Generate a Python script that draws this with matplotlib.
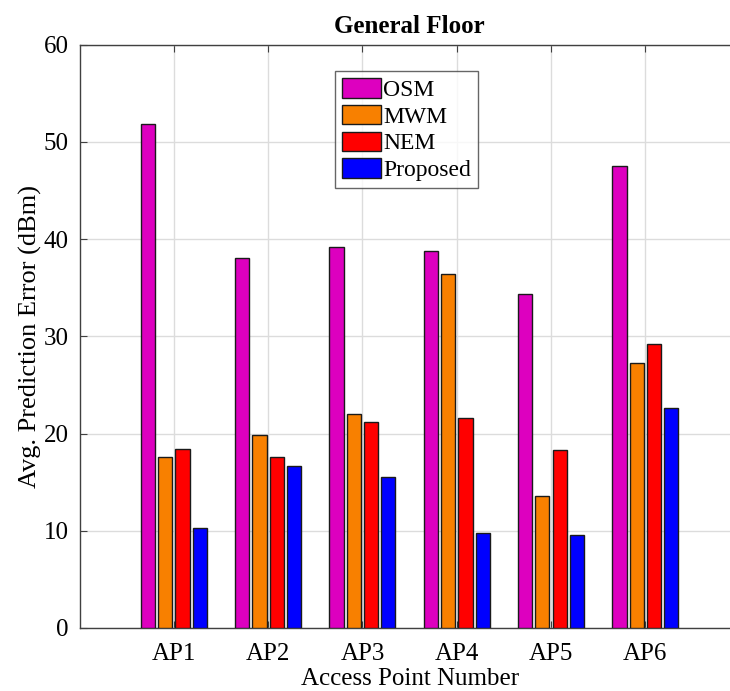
import matplotlib
matplotlib.use("Agg")
import matplotlib.pyplot as plt
import numpy as np

categories = ["AP1", "AP2", "AP3", "AP4", "AP5", "AP6"]
series_names = ["OSM", "MWM", "NEM", "Proposed"]
osm = [51.8, 38.0, 39.2, 38.8, 34.3, 47.5]
mwm = [17.6, 19.8, 22.0, 36.4, 13.6, 27.2]
nem = [18.4, 17.6, 21.2, 21.6, 18.3, 29.2]
proposed = [10.3, 16.7, 15.5, 9.75, 9.6, 22.6]
colors = ["#DD00BF", "#F88000", "#FF0000", "#0000FF"]
yticks = [0, 10, 20, 30, 40, 50, 60]

plt.rcParams['font.family'] = ['Liberation Serif', 'DejaVu Serif']

W, H = 730, 691
fig = plt.figure(figsize=(W / 100, H / 100), dpi=100)
left_px, top_px, bottom_px = 79.5, 44.5, 628.0
unit = 94.32
ax = fig.add_axes([left_px / W, (H - bottom_px) / H, 7 * unit / W, (bottom_px - top_px) / H])

x = np.arange(1, len(categories) + 1)
offsets = [-0.275, -0.092, 0.092, 0.275]
width = 0.15
for vals, off, c, name in zip([osm, mwm, nem, proposed], offsets, colors, series_names):
    ax.bar(x + off, vals, width=width, color=c, edgecolor="#1a1a1a", linewidth=1.0,
           label=name, zorder=3)

ax.set_xlim(0, 7)
ax.set_ylim(0, 60)
ax.set_xticks(x)
ax.set_xticklabels(categories)
ax.set_yticks(yticks)
ax.tick_params(direction="in", top=True, right=False, labelsize=18, length=5,
               color="#404040", width=0.8)
ax.tick_params(axis="x", pad=11)
ax.tick_params(axis="y", pad=8)
ax.grid(True, color="#DCDCDC", linewidth=1.0, zorder=0)
ax.set_axisbelow(True)
for s in ax.spines.values():
    s.set_color("#404040")
    s.set_linewidth(1.0)
ax.spines["right"].set_visible(False)

ax.set_title("General Floor", fontsize=18, fontweight="bold", pad=8)
ax.set_xlabel("Access Point Number", fontsize=18, labelpad=2)
ax.set_ylabel("Avg. Prediction Error (dBm)", fontsize=19, labelpad=1)

leg = ax.legend(loc="upper left", bbox_to_anchor=((335 - left_px) / (7 * unit), 1 - (71 - top_px) / (bottom_px - top_px)),
                fontsize=17, frameon=True, fancybox=False, edgecolor="#404040",
                handlelength=1.65, handleheight=0.9, handletextpad=0.1, labelspacing=0.16,
                borderpad=0.3, borderaxespad=0)
leg.get_frame().set_linewidth(1.0)

fig.savefig("out.png", dpi=100)
